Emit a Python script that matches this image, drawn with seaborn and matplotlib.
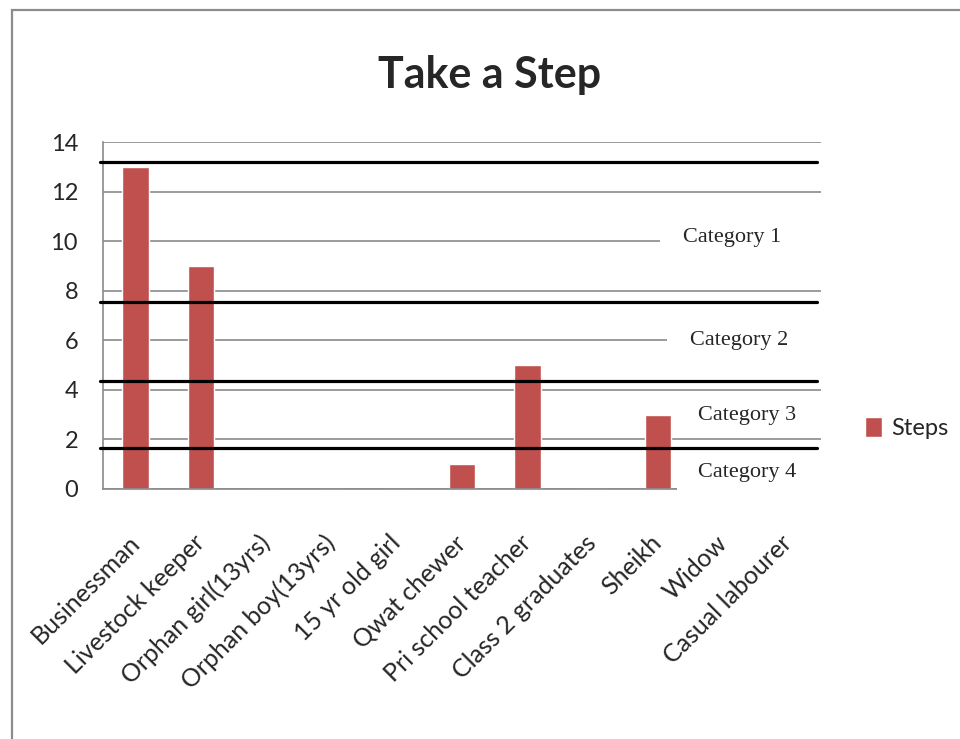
import matplotlib
matplotlib.use("Agg")
import matplotlib.pyplot as plt
from matplotlib.patches import Rectangle, Patch
import seaborn as sns

# occupations and the steps each one took
occupations = ["Businessman", "Livestock keeper", "Orphan girl(13yrs)", "Orphan boy(13yrs)",
               "15 yr old girl", "Qwat chewer", "Pri school teacher", "Class 2 graduates",
               "Sheikh", "Widow", "Casual labourer"]
steps = [13, 9, 0, 0, 0, 1, 5, 0, 3, 0, 0]
y_ticks = [0, 2, 4, 6, 8, 10, 12, 14]

# hand drawn category boundaries and their labels
band_lines = [13.2, 7.55, 4.37, 1.67]
band_labels = ["Category 1", "Category 2", "Category 3", "Category 4"]
band_label_y = [10.15, 6.0, 2.95, 0.65]

bar_color = "#C0504D"
grid_color = "#8a8a8a"

sns.set_style("white")
plt.rcParams["font.family"] = ["Lato", "DejaVu Sans"]

fig = plt.figure(figsize=(9.6, 7.39), dpi=100)
ax = fig.add_axes([0.1073, 0.3383, 0.748, 0.4695])

sns.barplot(x=occupations, y=steps, color=bar_color, saturation=1, width=0.41, ax=ax, zorder=2)

ax.set_ylim(0, 14)
ax.set_xlim(-0.5, len(occupations) - 0.5)
ax.set_yticks(y_ticks)
ax.yaxis.grid(True, color=grid_color, linewidth=1.2)
ax.set_axisbelow(True)
for side in ["top", "right"]:
    ax.spines[side].set_visible(False)
for side in ["left", "bottom"]:
    ax.spines[side].set_color(grid_color)
    ax.spines[side].set_linewidth(1.2)

# ticks on the category boundaries, like the office chart
ax.set_xticks([i - 0.5 for i in range(len(occupations) + 1)], minor=True)
ax.tick_params(axis="x", which="minor", length=5, width=1.2, color=grid_color, direction="out")
ax.tick_params(axis="x", which="major", length=0, pad=36, labelsize=18)
ax.tick_params(axis="y", length=4, width=1.2, color=grid_color, pad=14, labelsize=17)
ax.set_xticks(range(len(occupations)))
ax.set_xticklabels(occupations, rotation=45, ha="right", rotation_mode="anchor", va="center")
ax.set_xlabel("")
ax.set_ylabel("")

# white text boxes hide part of the grid behind the labels
for (x0, y0, w, h) in [(0.776, 0.674, 0.24, 0.10), (0.786, 0.386, 0.23, 0.087),
                       (0.800, -0.025, 0.22, 0.122)]:
    ax.add_patch(Rectangle((x0, y0), w, h, transform=ax.transAxes, facecolor="white",
                           edgecolor="none", zorder=3, clip_on=False))

for yv in band_lines:
    ax.axhline(yv, xmin=-0.004, xmax=0.994, color="black", linewidth=2.3, zorder=5, clip_on=False)

label_x = [9.13, 9.25, 9.36, 9.36]
for lx, ly, txt in zip(label_x, band_label_y, band_labels):
    ax.text(lx, ly, txt, ha="center", va="center", fontsize=16,
            family=["Liberation Serif", "DejaVu Serif"], zorder=4)

fig.text(0.51, 0.898, "Take a Step", ha="center", va="center", fontsize=31, fontweight="bold")

ax.legend(handles=[Patch(facecolor=bar_color, label="Steps")], loc="center left",
          bbox_to_anchor=(0.889, 0.421), bbox_transform=fig.transFigure, frameon=False,
          fontsize=17, handlelength=0.7, handleheight=0.9, handletextpad=0.4, borderpad=0)

# grey frame around the chart area
fig.add_artist(Rectangle((12 / 960, -0.05), 1.1, 1 - 10 / 739 + 0.05, transform=fig.transFigure,
                         facecolor="none", edgecolor="#8c8c8c", linewidth=1.6))

fig.savefig("out.png", dpi=100)
